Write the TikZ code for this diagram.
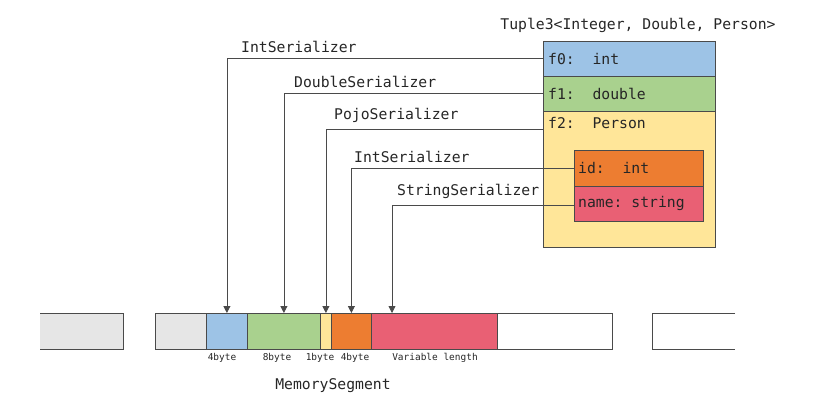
\documentclass[tikz,border=0pt]{standalone}
\usepackage{fontspec}
\setmonofont{DejaVu Sans Mono}
\usepackage{tikz}
\usetikzlibrary{positioning,calc,arrows.meta}
\definecolor{ink}     {HTML}{4A4A4A}
\definecolor{skyblue} {HTML}{9DC3E6}
\definecolor{leaf}    {HTML}{A9D18E}
\definecolor{butter}  {HTML}{FFE699}
\definecolor{rust}    {HTML}{ED7D31}
\definecolor{rose}    {HTML}{E96074}
\definecolor{ash}     {HTML}{E6E6E6}
\newcommand{\bigtt}{\fontsize{14.8}{17}\selectfont\ttfamily}
\tikzset{
  >={Triangle[length=7bp,width=7bp]},
  every node/.style={font=\bigtt, text=black!85},
  % --- nodes
  fld/.style   = {draw=ink, line width=0.8pt, anchor=north west, inner sep=0pt,
                  minimum width=#1},
  ftxt/.style  = {anchor=west, inner sep=0pt},
  seg/.style   = {draw=ink, line width=0.8pt, anchor=north west, inner sep=0pt,
                  minimum height=36bp},
  ser/.style   = {anchor=south west, inner sep=1pt},
  sz/.style    = {inner sep=0pt, font=\fontsize{9.5}{11}\selectfont\ttfamily},
  % --- edges
  e/.style     = {->, draw=ink, line width=0.8pt},
}
\begin{document}
\begin{tikzpicture}[x=1bp, y=-1bp]
  \useasboundingbox (0,0) rectangle (817,407);

  % tuple object
  \node (title) at (638,25) {Tuple3<Integer, Double, Person>};
  \node[fld=172bp, fill=butter, minimum height=206bp] (f2) at (543,41) {};
  \node[ftxt] (f2txt) at (548,123) {f2:\ \ Person};
  \node[fld=172bp, fill=skyblue, minimum height=35bp] (f0) at (543,41) {};
  \node[ftxt] (f0txt) at (548,58.5) {f0:\ \ int};
  \node[fld=172bp, fill=leaf, minimum height=35bp] (f1) at (543,76) {};
  \node[ftxt] (f1txt) at (548,93.5) {f1:\ \ double};
  \node[fld=129bp, fill=rust, minimum height=35.5bp] (pid) at (574,150) {};
  \node[ftxt] (pidtxt) at (578,168) {id:\ \ int};
  \node[fld=129bp, fill=rose, minimum height=35.5bp] (pname) at (574,185.5) {};
  \node[ftxt] (pnametxt) at (578,203.5) {name: string};

  % memory segment
  \draw[draw=ink, line width=0.8pt, fill=ash] (40,313) -- (123,313) -- (123,349) -- (40,349);
  \draw[draw=ink, line width=0.8pt] (735,313) -- (652,313) -- (652,349) -- (735,349);
  \node[seg, fill=ash,    minimum width=51bp]  (s0) at (155,313) {};
  \node[seg, fill=skyblue,minimum width=41bp]  (s1) at (206,313) {};
  \node[seg, fill=leaf,   minimum width=73bp]  (s2) at (247,313) {};
  \node[seg, fill=butter, minimum width=11bp]  (s3) at (320,313) {};
  \node[seg, fill=rust,   minimum width=40bp]  (s4) at (331,313) {};
  \node[seg, fill=rose,   minimum width=126bp] (s5) at (371,313) {};
  \node[seg, fill=white,  minimum width=115bp] (s6) at (497,313) {};
  \coordinate (s5in) at (392,313);

  \node[sz] (b1) at (222,358) {4byte};
  \node[sz] (b2) at (277,358) {8byte};
  \node[sz] (b3) at (320,358) {1byte};
  \node[sz] (b4) at (355,358) {4byte};
  \node[sz] (b5) at (435,358) {Variable length};
  \node (mseg) at (333,386) {MemorySegment};

  % serializers
  \node[ser] (ser0) at (240,54)  {IntSerializer};
  \node[ser] (ser1) at (293,89)  {DoubleSerializer};
  \node[ser] (ser2) at (333,124) {PojoSerializer};
  \node[ser] (ser3) at (353,164) {IntSerializer};
  \node[ser] (ser4) at (396,200) {StringSerializer};

  \draw[e] (f0.west |- 0,58.5) -| (s1.north);
  \draw[e] (f1.west |- 0,93.5) -| (s2.north);
  \draw[e] (f2.west |- 0,129) -| (s3.north);
  \draw[e] (pid.west |- 0,168.5) -| (s4.north);
  \draw[e] (pname.west |- 0,205.5) -| (s5in);
\end{tikzpicture}
\end{document}
